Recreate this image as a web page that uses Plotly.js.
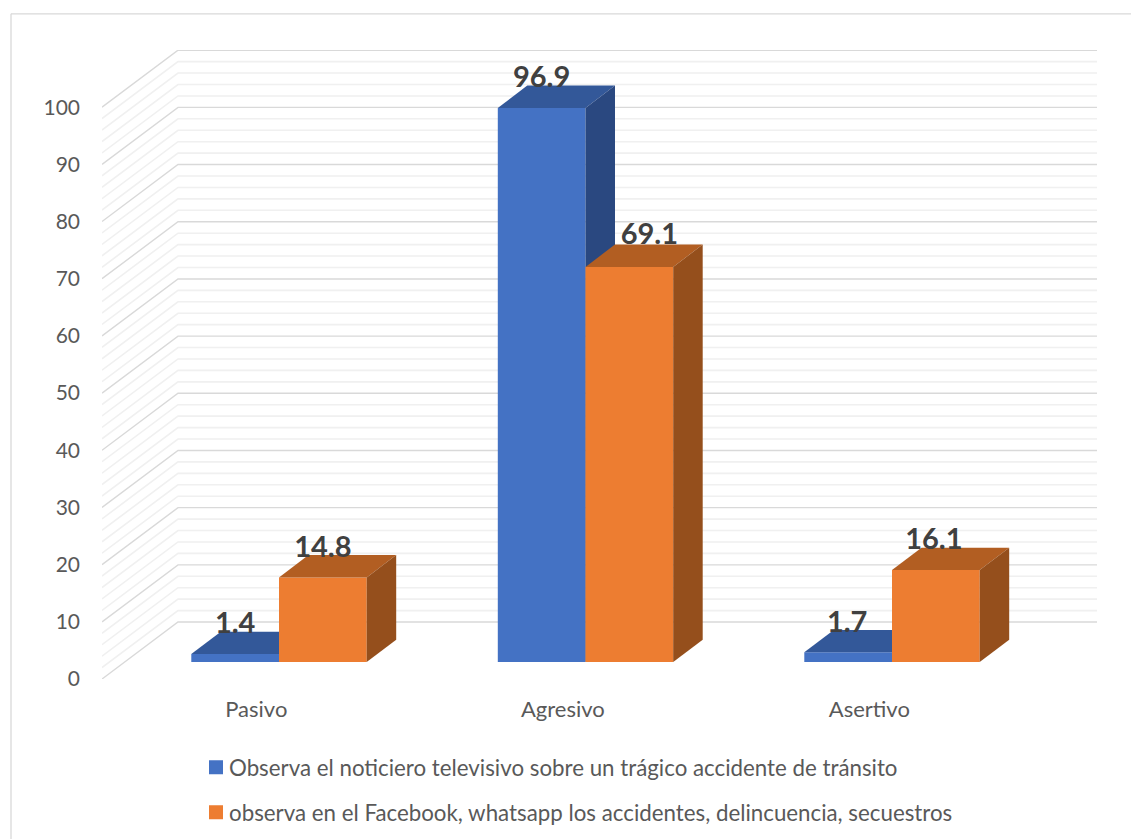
<!DOCTYPE html>
<html>
<head>
<meta charset="utf-8">
<script src="https://cdn.plot.ly/plotly-3.0.1.min.js"></script>
<style>html,body{margin:0;padding:0;background:#fff}</style>
</head>
<body>
<div id="chart" style="width:1131px;height:839px"></div>
<script>
// ---- data ----
const categories = ["Pasivo", "Agresivo", "Asertivo"];
const seriesTv = [1.4, 96.9, 1.7];
const seriesSocial = [14.8, 69.1, 16.1];
const seriesTvName = "Observa el noticiero televisivo sobre un trágico accidente de tránsito";
const seriesSocialName = "observa en el Facebook, whatsapp los accidentes, delincuencia, secuestros";
const valueTicks = [0, 10, 20, 30, 40, 50, 60, 70, 80, 90, 100];
const minorTicks = [2,4,6,8,12,14,16,18,22,24,26,28,32,34,36,38,42,44,46,48,52,54,56,58,62,64,66,68,72,74,76,78,82,84,86,88,92,94,96,98];

// ---- fake-3D projection, in axis units ----
const pxX = 306.5, pxY = 5.72;            // pixels per category / per value unit
const wallDX = 76 / pxX, wallDY = 57 / pxY;      // front plane to back wall
const floorDX = 22.7 / pxX, floorDY = 17 / pxY;  // front plane to bar fronts
const barDX = 29.5 / pxX, barDY = 22.3 / pxY;    // bar depth
const barW = 87.7 / pxX;
const xMin = -154.3 / pxX, xMax = xMin + 995 / pxX;
const yMax = 110;
const labelDY = 28 / pxY;
const labelNudgeTv = [0, 0, -1], labelNudgeSocial = [0, 20, -2];
const labelLiftTv = [0, 0, 0], labelLiftSocial = [0, 2, 0];

const C = {
  tv: {front: "#4472C4", top: "#335899", side: "#2A4880"},
  social: {front: "#ED7D31", top: "#B25E22", side: "#954F1C"}
};
const idx = categories.map((_, i) => i);

function gridTrace(v, color, width) {
  return {
    type: "scatter", mode: "lines", showlegend: false, hoverinfo: "skip",
    x: [xMin, xMin + wallDX, xMax], xaxis: "x",
    y: [v, v + wallDY, v + wallDY], yaxis: "y",
    line: {color: color, width: width}
  };
}

function faces(values, shift, col, ax, ay) {
  const out = [];
  values.forEach((v, i) => {
    const x0 = i + floorDX + shift * barW, x1 = x0 + barW;
    const y0 = floorDY, y1 = floorDY + v;
    out.push({type: "scatter", mode: "lines", fill: "toself", fillcolor: col.top,
      line: {width: 0, color: col.top}, showlegend: false, hoverinfo: "skip", xaxis: ax, yaxis: ay,
      x: [x0, x1, x1 + barDX, x0 + barDX, x0],
      y: [y1, y1, y1 + barDY, y1 + barDY, y1]});
    out.push({type: "scatter", mode: "lines", fill: "toself", fillcolor: col.side,
      line: {width: 0, color: col.side}, showlegend: false, hoverinfo: "skip", xaxis: ax, yaxis: ay,
      x: [x1, x1 + barDX, x1 + barDX, x1, x1],
      y: [y0, y0 + barDY, y1 + barDY, y1, y0]});
  });
  return out;
}

function bars(values, shift, col, name, group, ax, ay) {
  return {
    type: "bar", name: name, legendgroup: group, xaxis: ax, yaxis: ay,
    x: idx.map(i => i + floorDX + (shift + 0.5) * barW),
    y: values, base: idx.map(() => floorDY), width: barW,
    marker: {color: col.front, line: {width: 0}},
    hovertemplate: "%{y}<extra></extra>"
  };
}

function labels(values, shift, nudges, lifts, ax, ay) {
  return {
    type: "scatter", mode: "text", showlegend: false, hoverinfo: "skip", xaxis: ax, yaxis: ay,
    x: idx.map(i => i + floorDX + (shift + 0.5) * barW + nudges[i] / pxX),
    y: values.map((v, i) => v + floorDY + labelDY + lifts[i] / pxY),
    text: values.map(v => v.toFixed(1)),
    textposition: "middle center",
    textfont: {family: "Lato, sans-serif", size: 29, color: "#404040", weight: 700},
    cliponaxis: false
  };
}

const traces = [];
minorTicks.forEach(v => traces.push(gridTrace(v, "#f0f0f0", 1.6)));
valueTicks.forEach(v => traces.push(gridTrace(v, "#d9d9d9", 1.4)));
traces.push(...faces(seriesTv, -1, C.tv, "x2", "y2"));
traces.push(bars(seriesTv, -1, C.tv, seriesTvName, "a", "x2", "y2"));
traces.push(...faces(seriesSocial, 0, C.social, "x3", "y3"));
traces.push(bars(seriesSocial, 0, C.social, seriesSocialName, "b", "x3", "y3"));
traces.push(labels(seriesTv, -1, labelNudgeTv, labelLiftTv, "x3", "y3"));
traces.push(labels(seriesSocial, 0, labelNudgeSocial, labelLiftSocial, "x3", "y3"));

const hiddenX = ov => ({overlaying: ov, range: [xMin, xMax], visible: false, fixedrange: true});
const hiddenY = ov => ({overlaying: ov, range: [0, yMax], visible: false, fixedrange: true});

// chart frame, expressed in plot fractions
const fx = px => (px - 102) / 995, fy = px => (678.7 - px) / 629;
const frame = {type: "line", xref: "paper", yref: "paper", line: {color: "#d9d9d9", width: 1.3}, layer: "below"};

const layout = {
  width: 1131, height: 839, showlegend: true, paper_bgcolor: "#fff", plot_bgcolor: "rgba(0,0,0,0)",
  margin: {l: 102, r: 34, t: 49.7, b: 160.3, pad: 0, autoexpand: false},
  barmode: "overlay",
  xaxis: {range: [xMin, xMax], tickmode: "array", tickvals: idx, ticktext: categories,
    showgrid: false, zeroline: false, showline: false, ticks: "", ticklabelstandoff: 15,
    tickfont: {family: "Lato, sans-serif", size: 22, color: "#595959"}, fixedrange: true},
  yaxis: {range: [0, yMax], tickmode: "array", tickvals: valueTicks,
    showgrid: false, zeroline: false, showline: false, ticks: "", ticklabelstandoff: 21,
    tickfont: {family: "Lato, sans-serif", size: 21, color: "#595959"}, fixedrange: true},
  xaxis2: hiddenX("x"), yaxis2: hiddenY("y"),
  xaxis3: hiddenX("x"), yaxis3: hiddenY("y"),
  legend: {x: fx(189), xanchor: "left", y: fy(746), yanchor: "top", tracegroupgap: 13,
    font: {family: "Lato, sans-serif", size: 22.3, color: "#595959"}, bgcolor: "rgba(0,0,0,0)", traceorder: "grouped"},
  shapes: [
    Object.assign({}, frame, {x0: fx(11), x1: fx(1131), y0: fy(13.5), y1: fy(13.5)}),
    Object.assign({}, frame, {x0: fx(11), x1: fx(11), y0: fy(13.5), y1: fy(839)})
  ]
};

Plotly.newPlot("chart", traces, layout, {displayModeBar: false, responsive: false}).then(gd => {
  // the reference's legend swatches are 14px squares set closer to their text
  gd.querySelectorAll(".legend .legendsymbols").forEach(g => g.setAttribute("transform", "translate(7,0)"));
  gd.querySelectorAll(".legend .legendsymbols path").forEach(p => p.setAttribute("d", "M7,7H-7V-7H7Z"));
});
</script>
</body>
</html>
